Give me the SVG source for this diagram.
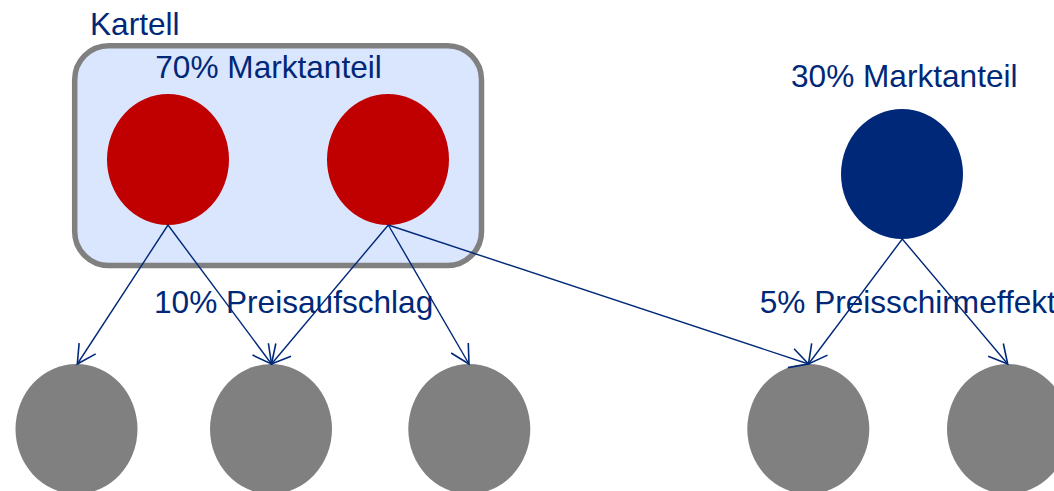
<svg xmlns="http://www.w3.org/2000/svg" width="1054" height="491" viewBox="0 0 1054 491">
  <style>
    .lbl { font-family: "Liberation Sans", Arial, sans-serif; font-size: 31.6px; fill: #002878; }
    .cartel { fill: #C00000; }
    .outsider { fill: #002878; }
    .buyer { fill: #808080; }
    .link { stroke: #002878; stroke-width: 1.4; fill: none; marker-end: url(#openArrow); }
  </style>
  <defs>
    <marker id="openArrow" markerUnits="userSpaceOnUse" viewBox="-25 -15 30 30" refX="0" refY="0" markerWidth="30" markerHeight="30" orient="auto">
      <path d="M -18.5 -9.9 L 0 0 L -18.5 9.9" fill="none" stroke="#002878" stroke-width="1.6"/>
    </marker>
  </defs>

  <rect width="1054" height="491" fill="#FFFFFF"/>

  <!-- cartel frame -->
  <g id="cartel-group">
    <rect x="74.7" y="45.7" width="406.8" height="219.8" rx="34" ry="34" fill="#DAE6FE" stroke="#808080" stroke-width="5.5"/>
    <text class="lbl" x="90" y="35">Kartell</text>
    <text class="lbl" x="155.3" y="78.3">70% Marktanteil</text>
  </g>

  <!-- suppliers -->
  <g id="cartel-member-1"><ellipse class="cartel" cx="168" cy="159.5" rx="61" ry="65.5"/></g>
  <g id="cartel-member-2"><ellipse class="cartel" cx="388" cy="159.5" rx="61" ry="65.5"/></g>
  <g id="outsider">
    <ellipse class="outsider" cx="902" cy="174" rx="61" ry="65"/>
    <text class="lbl" x="791" y="86.7">30% Marktanteil</text>
  </g>

  <!-- customers -->
  <g id="customer-1"><ellipse class="buyer" cx="76.5" cy="429" rx="61" ry="65"/></g>
  <g id="customer-2"><ellipse class="buyer" cx="271" cy="429" rx="61" ry="65"/></g>
  <g id="customer-3"><ellipse class="buyer" cx="469.3" cy="429" rx="61" ry="65"/></g>
  <g id="customer-4"><ellipse class="buyer" cx="808.3" cy="429" rx="61" ry="65"/></g>
  <g id="customer-5"><ellipse class="buyer" cx="1008" cy="429" rx="61" ry="65"/></g>

  <!-- effect labels -->
  <g id="labels">
    <text class="lbl" x="154" y="312.7">10% Preisaufschlag</text>
    <text class="lbl" x="759.7" y="312.7">5% Preisschirmeffekt</text>
  </g>

  <!-- price effects -->
  <g id="connectors">
    <line class="link" x1="168" y1="225" x2="77.3" y2="364"/>
    <line class="link" x1="168" y1="225" x2="271.5" y2="364"/>
    <line class="link" x1="388.3" y1="225" x2="271.5" y2="364"/>
    <line class="link" x1="388.3" y1="225" x2="469" y2="364"/>
    <line class="link" x1="388.3" y1="225" x2="808.5" y2="364"/>
    <line class="link" x1="902.3" y1="239" x2="808.5" y2="364"/>
    <line class="link" x1="902.3" y1="239" x2="1007.7" y2="364"/>
  </g>
</svg>
